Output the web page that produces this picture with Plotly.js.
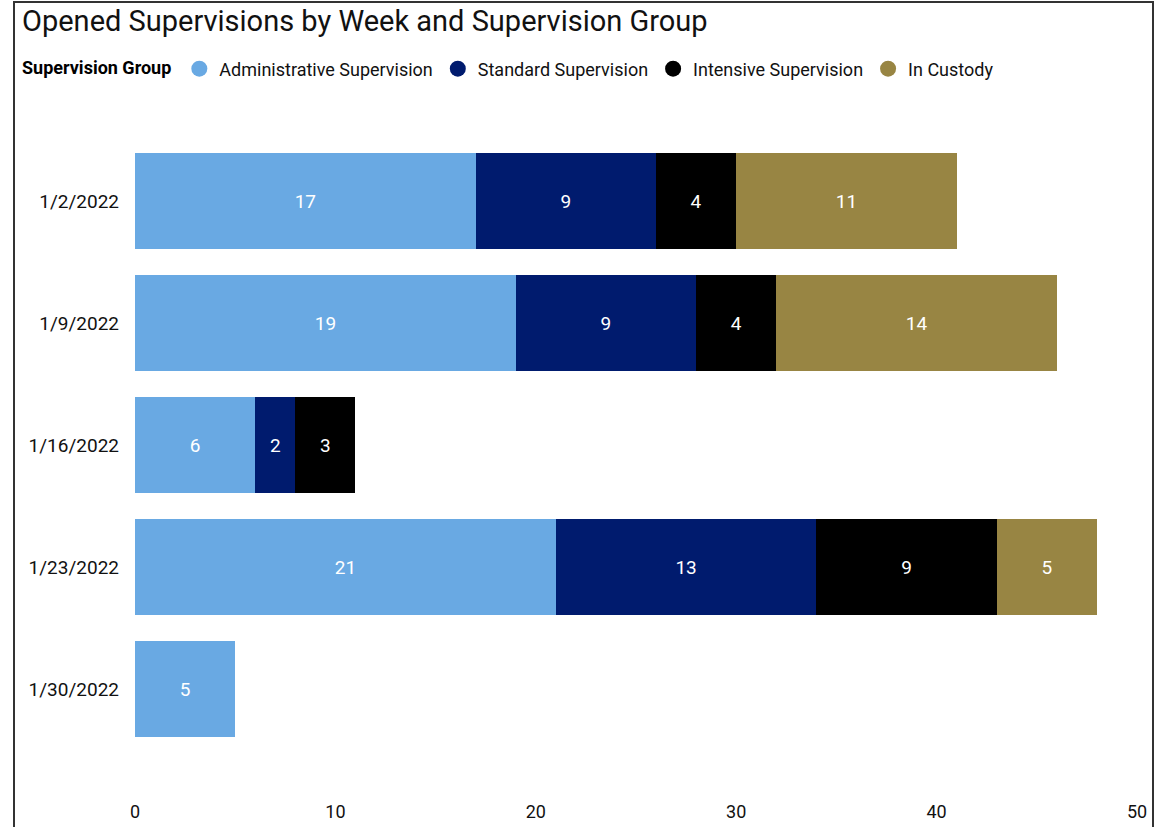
<!DOCTYPE html>
<html>
<head>
<meta charset="utf-8">
<script src="https://cdn.plot.ly/plotly-3.0.1.min.js"></script>
<style>
  html, body { margin: 0; padding: 0; background: #fff; overflow: hidden; }
  #wrap { position: relative; width: 1165px; height: 827px; }
  #frame { position: absolute; left: 13px; top: 1px; width: 1141px; height: 840px; border: 2px solid #333; box-sizing: border-box; pointer-events: none; z-index: 5; }
  #chart { position: absolute; left: 0; top: 0; width: 1165px; height: 827px; }
</style>
</head>
<body>
<div id="wrap">
  <div id="chart"></div>
  <div id="frame"></div>
</div>
<script>
const weeks = ["1/2/2022", "1/9/2022", "1/16/2022", "1/23/2022", "1/30/2022"];
const groups = ["Administrative Supervision", "Standard Supervision", "Intensive Supervision", "In Custody"];
const administrative = [17, 19, 6, 21, 5];
const standard = [9, 9, 2, 13, null];
const intensive = [4, 4, 3, 9, null];
const inCustody = [11, 14, null, 5, null];
const colors = ["#69A9E3", "#001B6E", "#000000", "#988543"];
const seriesValues = [administrative, standard, intensive, inCustody];

const font = "Roboto, 'DejaVu Sans Condensed', sans-serif";

const traces = [];
seriesValues.forEach((vals, i) => {
  traces.push({
    type: "bar",
    orientation: "h",
    name: groups[i],
    y: weeks,
    x: vals,
    marker: { color: colors[i], line: { width: 0 } },
    text: vals.map(v => v == null ? "" : String(v)),
    textposition: "inside",
    insidetextanchor: "middle",
    textangle: 0,
    constraintext: "none",
    textfont: { color: "#ffffff", size: 19, family: font },
    showlegend: false,
    hoverinfo: "x+name"
  });
});
// legend entries with round markers
groups.forEach((g, i) => {
  traces.push({
    type: "scatter",
    mode: "markers",
    name: g,
    x: [null],
    y: [null],
    marker: { color: colors[i], size: 18, symbol: "circle" },
    showlegend: true,
    hoverinfo: "skip"
  });
});

const layout = {
  width: 1165,
  height: 827,
  barmode: "stack",
  bargap: 0.22,
  paper_bgcolor: "#ffffff",
  plot_bgcolor: "#ffffff",
  font: { family: font, color: "#111", size: 16 },
  margin: { l: 135, r: 28, t: 140, b: 77 },
  title: {
    text: "Opened Supervisions by Week and Supervision Group",
    font: { family: font, size: 29, color: "#111" },
    x: 22 / 1165,
    xanchor: "left",
    xref: "container",
    y: 1 - 21 / 827,
    yanchor: "middle",
    yref: "container"
  },
  showlegend: true,
  legend: {
    orientation: "h",
    traceorder: "normal",
    x: (20 - 135) / 1002,
    xanchor: "left",
    y: 1 + (140 - 69) / 610,
    yanchor: "middle",
    font: { family: font, size: 18, color: "#111" },
    title: { text: "<b>Supervision Group</b>", font: { family: font, size: 18, color: "#000" }, side: "left" },
    itemwidth: 30,
    tracegroupgap: 0,
    bgcolor: "rgba(0,0,0,0)"
  },
  xaxis: {
    range: [0, 50],
    tickvals: [0, 10, 20, 30, 40, 50],
    showgrid: false,
    zeroline: false,
    showline: false,
    ticks: "",
    ticklabelstandoff: 49,
    tickfont: { family: font, size: 18, color: "#111" },
    fixedrange: true
  },
  yaxis: {
    type: "category",
    categoryorder: "array",
    categoryarray: weeks,
    autorange: "reversed",
    showgrid: false,
    zeroline: false,
    showline: false,
    ticks: "",
    ticklabelstandoff: 15,
    tickfont: { family: font, size: 19, color: "#111" },
    fixedrange: true
  }
};

Plotly.newPlot("chart", traces, layout, { displayModeBar: false, staticPlot: true });
</script>
</body>
</html>
